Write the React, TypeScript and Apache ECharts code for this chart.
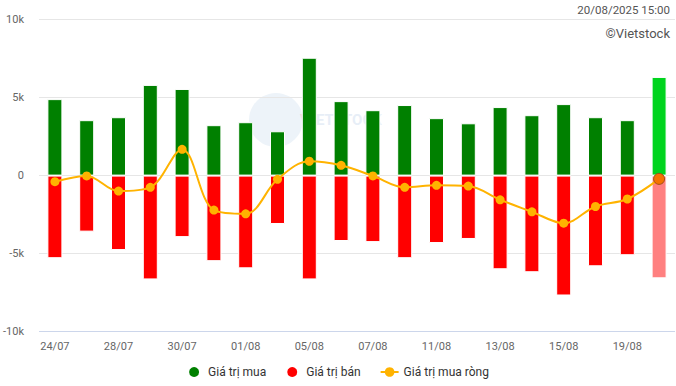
import React, { useEffect, useRef } from "react";
import * as echarts from "echarts";

const categories = ["24/07","25/07","28/07","29/07","30/07","31/07","01/08","04/08","05/08","06/08","07/08","08/08","11/08","12/08","13/08","14/08","15/08","18/08","19/08","20/08"];
const buyValues = [4900,3550,3740,5810,5550,3230,3420,2840,7550,4770,4190,4520,3680,3350,4390,3870,4580,3740,3550,6320];
const sellValues = [-5290,-3590,-4770,-6650,-3940,-5480,-5940,-3100,-6650,-4190,-4260,-5290,-4320,-4060,-6000,-6190,-7680,-5810,-5100,-6580];
const netValues = [-390,-20,-990,-750,1680,-2210,-2450,-240,920,660,-20,-750,-620,-670,-1550,-2320,-3050,-1980,-1500,-210];
const yTicks = [-10000, -5000, 0, 5000, 10000];

export default function App() {
  const ref = useRef<HTMLDivElement>(null);
  useEffect(() => {
    if (!ref.current) return;
    const chart = echarts.init(ref.current, null, { renderer: "svg" });
    const last = categories.length - 1;
    const font = "Roboto, 'Noto Sans', sans-serif";
    chart.setOption({
      animation: false,
      textStyle: { fontFamily: font },
      grid: { left: 39, right: 1, top: 19.5, bottom: 54.3, containLabel: false },
      graphic: [
        { type: "circle", z: -10, shape: { cx: 276, cy: 120, r: 27 }, style: { fill: "rgba(220,231,243,0.5)" } },
        { type: "text", z: -10, x: 300, y: 112, style: { text: "VI", fontSize: 15, fontWeight: "bold", fill: "rgba(245,200,205,0.6)", fontFamily: font } },
        { type: "text", z: -10, x: 316, y: 112, style: { text: "ETSTOCK", fontSize: 15, fontWeight: "bold", fill: "rgba(215,228,242,0.6)", fontFamily: font } },
        { type: "text", right: 6, top: 4, style: { text: "20/08/2025 15:00", fontSize: 11.5, fill: "#555", fontFamily: font } },
        { type: "text", right: 6, top: 27, style: { text: "©Vietstock", fontSize: 13, fill: "#555", fontFamily: font } },
      ],
      legend: {
        bottom: 2,
        left: "center",
        itemGap: 19,
        itemWidth: 18,
        itemHeight: 12,
        textStyle: { fontSize: 12, color: "#333", fontFamily: font },
        data: [
          { name: "Giá trị mua", icon: "circle" },
          { name: "Giá trị bán", icon: "circle" },
          { name: "Giá trị mua ròng" },
        ],
      },
      xAxis: {
        type: "category",
        data: categories,
        axisLine: { show: false },
        axisTick: { show: false },
        axisLabel: { interval: 1, color: "#666", fontSize: 11, margin: 9, fontFamily: font },
      },
      yAxis: {
        type: "value",
        min: yTicks[0],
        max: yTicks[yTicks.length - 1],
        interval: 5000,
        axisLabel: {
          color: "#666",
          fontSize: 11,
          margin: 15,
          fontFamily: font,
          formatter: (v: number) => (v === 0 ? "0" : v / 1000 + "k"),
        },
        splitLine: {
          lineStyle: {
            color: yTicks.map((t) => (t === yTicks[0] ? "#ccd6eb" : "#e6e6e6")),
          },
        },
      },
      series: [
        {
          name: "Giá trị mua",
          type: "bar",
          barWidth: 15,
          barGap: "-100%",
          itemStyle: { color: "#008000", borderColor: "#fff", borderWidth: 1 },
          data: buyValues.map((v, i) => (i === last ? { value: v, itemStyle: { color: "#00d41e" } } : v)),
        },
        {
          name: "Giá trị bán",
          type: "bar",
          barWidth: 15,
          barGap: "-100%",
          itemStyle: { color: "#ff0000", borderColor: "#fff", borderWidth: 1 },
          data: sellValues.map((v, i) => (i === last ? { value: v, itemStyle: { color: "#ff8080" } } : v)),
        },
        {
          name: "Giá trị mua ròng",
          type: "line",
          smooth: 0.35,
          z: 5,
          symbol: "circle",
          symbolSize: 9,
          lineStyle: { color: "#ffb300", width: 2 },
          itemStyle: { color: "#ffb300" },
          data: netValues.map((v, i) =>
            i === last
              ? { value: v, symbolSize: 11, itemStyle: { color: "#f57200", borderColor: "#a0501a", borderWidth: 1 } }
              : v
          ),
        },
      ],
    });
    return () => chart.dispose();
  }, []);
  return <div ref={ref} style={{ width: 676, height: 386, position: "absolute", left: 0, top: 0 }} />;
}
